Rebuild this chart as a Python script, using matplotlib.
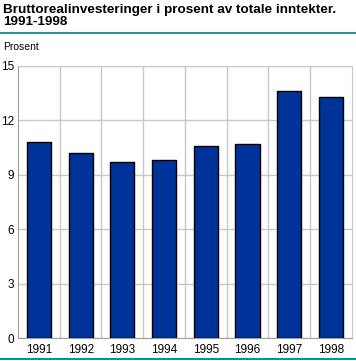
import matplotlib
matplotlib.use("Agg")
import matplotlib.pyplot as plt
from matplotlib.lines import Line2D

years = ["1991", "1992", "1993", "1994", "1995", "1996", "1997", "1998"]
values = [10.8, 10.2, 9.7, 9.8, 10.6, 10.7, 13.6, 13.3]
yticks = [0, 3, 6, 9, 12, 15]

plt.rcParams['font.family'] = ['Liberation Sans', 'DejaVu Sans']
fig = plt.figure(figsize=(3.56, 3.61), dpi=100)
ax = fig.add_axes([0.0506, 0.0637, 0.938, 0.7535])

x = range(len(years))
ax.bar(x, values, width=0.58, color="#003399", edgecolor="black", linewidth=1, zorder=3)
ax.set_xlim(-0.5, len(years) - 0.5)
ax.set_ylim(0, 15)
ax.set_yticks(yticks)
ax.set_yticklabels([str(t) for t in yticks], fontsize=8.5)
ax.set_xticks(list(x))
ax.set_xticklabels(years, fontsize=8.5)
ax.set_xticks([i + 0.5 for i in range(len(years) - 1)], minor=True)
ax.grid(False)
ax.yaxis.grid(True, color="#c8c8c8", linewidth=1, zorder=0)
ax.xaxis.grid(True, which="minor", color="#c8c8c8", linewidth=1, zorder=0)
ax.tick_params(axis="both", which="both", length=0)
ax.tick_params(axis="x", pad=4)
ax.tick_params(axis="y", pad=3)
for s in ["top", "right"]:
    ax.spines[s].set_color("#c8c8c8")
for s in ["left", "bottom"]:
    ax.spines[s].set_color("#a0a0a0")

fig.text(0.008, 0.99, "Bruttorealinvesteringer i prosent av totale inntekter.\n1991-1998",
         fontsize=9.7, fontweight="bold", va="top", ha="left", linespacing=1.0)
fig.add_artist(Line2D([0, 1], [1 - 33/361, 1 - 33/361], color="#008080", linewidth=1.2))
fig.add_artist(Line2D([0, 1], [1 - 359/361, 1 - 359/361], color="#009999", linewidth=1.5))
fig.text(0.008, 1 - 47/361, "Prosent", fontsize=7.5, va="center", ha="left")

fig.savefig("out.png", dpi=100)
